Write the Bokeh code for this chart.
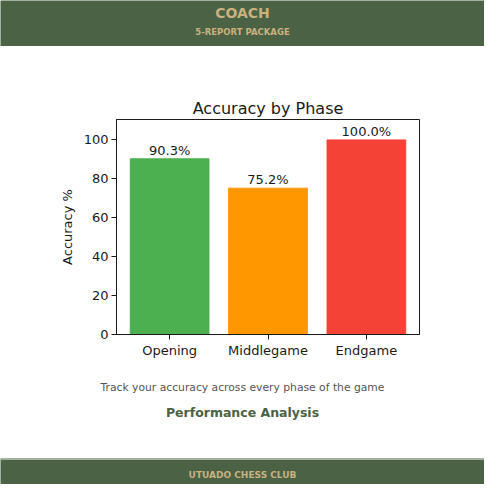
from bokeh.plotting import figure
from bokeh.layouts import column
from bokeh.models import FactorRange, Range1d, FixedTicker, ColumnDataSource
from bokeh.core.properties import value
from bokeh.embed import file_html
from bokeh.resources import INLINE

# ---- data ----
phases = ["Opening", "Middlegame", "Endgame"]
accuracy = [90.3, 75.2, 100.0]
bar_colors = ["#4caf50", "#ff9800", "#f44336"]
value_labels = ["90.3%", "75.2%", "100.0%"]
y_ticks = [0, 20, 40, 60, 80, 100]
header_title = ["COACH"]
header_sub = ["5-REPORT PACKAGE"]
footer_text = ["UTUADO CHESS CLUB"]
chart_title = "Accuracy by Phase"
y_label = "Accuracy %"
caption = ["Track your accuracy across every phase of the game"]
section = ["Performance Analysis"]

GREEN = "#4b6244"
TAN = "#c9b181"
EDGE = "#a4ae9f"
FONT = "DejaVu Sans"
W = 484


def band(height, fill):
    f = figure(width=W, height=height, x_range=Range1d(0, W), y_range=Range1d(0, height),
               output_backend="svg", toolbar_location=None, min_border=0)
    f.axis.visible = False
    f.grid.visible = False
    f.outline_line_color = None
    f.background_fill_color = fill
    f.border_fill_color = fill
    return f


# header
hdr = band(46, GREEN)
hdr.hspan(y=[0.5], line_color=EDGE, line_width=1)
hdr.text(x=[W / 2], y=[33.5], text=header_title, text_align="center", text_baseline="middle",
         text_font=value(FONT), text_font_style="bold", text_font_size="14px", text_color=TAN)
hdr.text(x=[W / 2], y=[15], text=header_sub, text_align="center", text_baseline="middle",
         text_font=value(FONT), text_font_style="bold", text_font_size="8.5px", text_color=TAN)

# main chart
p = figure(width=W, height=318, x_range=FactorRange(factors=phases, range_padding=0.08 / 3),
           y_range=Range1d(0, 110.5), output_backend="svg", toolbar_location=None,
           min_border_left=116, min_border_right=65, min_border_top=73, min_border_bottom=30)
src = ColumnDataSource(dict(x=phases, top=accuracy, color=bar_colors, lab=value_labels))
p.vbar(x="x", top="top", width=0.8, color="color", source=src)
p.text(x="x", y="top", text="lab", source=src, text_align="center", text_baseline="bottom",
       y_offset=-1, text_font=value(FONT), text_font_size="13px", text_color="#1a1a1a")

p.grid.visible = False
p.background_fill_color = "white"
p.border_fill_color = "white"
p.outline_line_color = "#1a1a1a"
p.outline_line_width = 1

p.title.text = chart_title
p.title.align = "center"
p.title.text_font = FONT
p.title.text_font_style = "normal"
p.title.text_font_size = "16px"
p.title.text_color = "#1a1a1a"
p.title.standoff = 4

for ax in (p.xaxis[0], p.yaxis[0]):
    ax.axis_line_color = "#1a1a1a"
    ax.major_tick_line_color = "#1a1a1a"
    ax.major_tick_in = 0
    ax.major_tick_out = 5
    ax.minor_tick_line_color = None
    ax.major_label_text_font = FONT
    ax.major_label_text_font_size = "13px"
    ax.major_label_text_color = "#1a1a1a"
    ax.axis_label_text_font = FONT
    ax.axis_label_text_font_style = "normal"
    ax.axis_label_text_font_size = "13px"
    ax.axis_label_text_color = "#1a1a1a"

p.yaxis[0].ticker = FixedTicker(ticks=y_ticks)
p.yaxis[0].axis_label = y_label
p.yaxis[0].major_label_standoff = 3
p.yaxis[0].axis_label_standoff = 6
p.xaxis[0].major_label_standoff = 3

# caption band
cap = band(94, "white")
cap.text(x=[W / 2], y=[71], text=caption, text_align="center", text_baseline="middle",
         text_font=value(FONT), text_font_size="10.75px", text_color="#555555")
cap.text(x=[W / 2], y=[46], text=section, text_align="center", text_baseline="middle",
         text_font=value(FONT), text_font_style="bold", text_font_size="12.5px", text_color=GREEN)

# footer
ftr = band(26, GREEN)
ftr.hspan(y=[25.5], line_color=EDGE, line_width=1)
ftr.text(x=[W / 2], y=[9.3], text=footer_text, text_align="center", text_baseline="middle",
         text_font=value(FONT), text_font_style="bold", text_font_size="9px", text_color=TAN)

layout = column(column(hdr), column(p), column(cap), column(ftr), spacing=0)
open("out.html", "w").write(file_html(layout, INLINE))
